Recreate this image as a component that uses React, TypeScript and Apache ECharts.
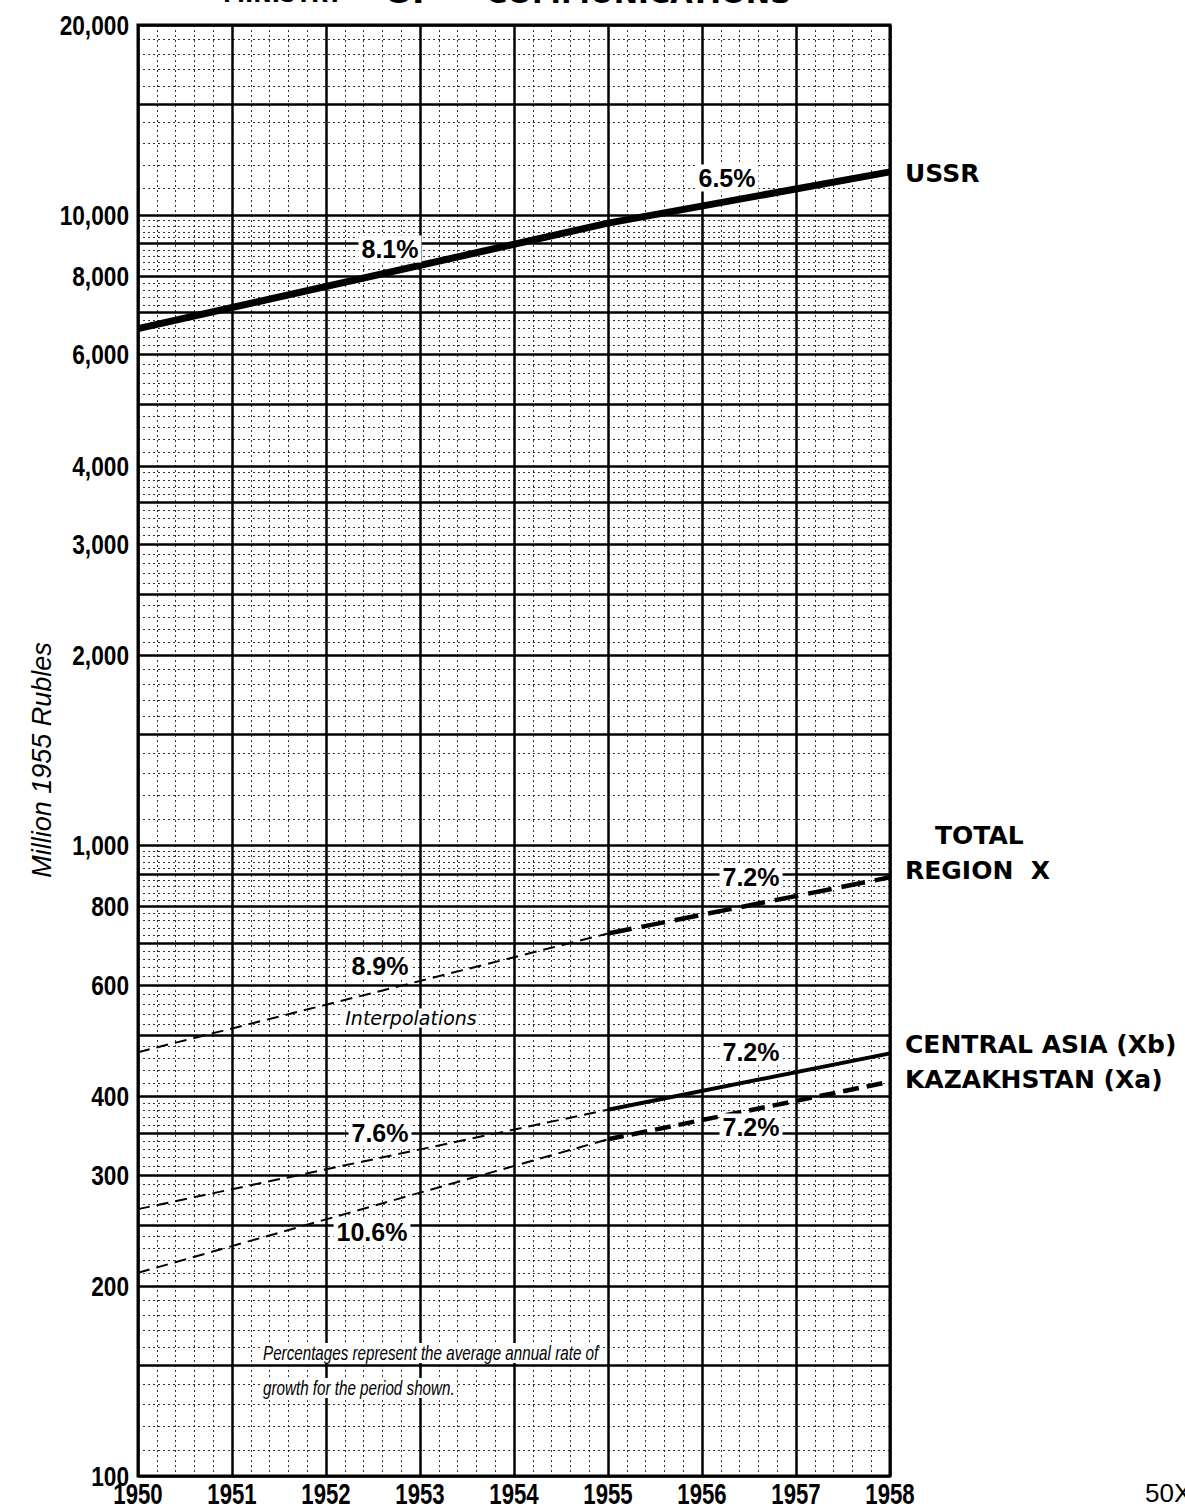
import React, { useEffect, useRef } from "react";
import * as echarts from "echarts";

// ---- data ----
const years = [1950, 1955, 1958];
const ussr = [6600, 9700, 11700];
const totalRegionX = [470, 725, 890];
const centralAsia = [265, 381, 468];
const kazakhstan = [210, 342, 422];

// ---- axis labels ----
const xTickYears = [1950, 1951, 1952, 1953, 1954, 1955, 1956, 1957, 1958];
const yLabelValues = [100, 200, 300, 400, 600, 800, 1000, 2000, 3000, 4000, 6000, 8000, 10000, 20000];
const yLabelTexts = ["100", "200", "300", "400", "600", "800", "1,000", "2,000", "3,000", "4,000", "6,000", "8,000", "10,000", "20,000"];

// heavy rulings of the semi-log graph paper
const majorRulings = [150, 250, 350, 500, 700, 900, 1500, 2500, 3500, 5000, 7000, 9000, 15000];
// fine rulings: [from, to, step] within each decade
const fineRulingSteps = [
  [100, 200, 10],
  [200, 400, 10],
  [400, 1000, 20],
];

const SANS = "'DejaVu Sans', 'Liberation Sans', sans-serif";
const LIB = "'Liberation Sans', Arial, sans-serif";

function fineRulings(): number[] {
  const heavy = new Set([...majorRulings, ...yLabelValues]);
  const out: number[] = [];
  for (const dec of [1, 10, 100]) {
    for (const [a, b, s] of fineRulingSteps) {
      for (let v = a; v < b; v += s) {
        const val = v * dec;
        if (val > 100 && val < 20000 && !heavy.has(val)) out.push(val);
      }
    }
  }
  return out;
}

export default function App() {
  const ref = useRef<HTMLDivElement>(null);

  useEffect(() => {
    if (!ref.current) return;
    const chart = echarts.init(ref.current, null, { renderer: "svg" });

    const heavyLine = { color: "#000", width: 2.5, type: "solid" as const };
    const fineLine = { color: "#000", width: 1, type: [2, 3] as any, opacity: 0.8 };

    const markData: any[] = [];
    fineRulings().forEach((v) => markData.push({ yAxis: v, lineStyle: fineLine }));
    [...majorRulings, ...yLabelValues].forEach((v) => markData.push({ yAxis: v, lineStyle: heavyLine }));

    const pts = (arr: number[]) => years.map((y, i) => [y, arr[i]]);
    const interp = (arr: number[]) => pts(arr).slice(0, 2);
    const actual = (arr: number[]) => pts(arr).slice(1);

    const thinDash = { color: "#000", width: 2, type: [12, 7] as any, cap: "butt" as const };

    const lineSeries = (name: string, data: number[][], lineStyle: any) => ({
      name,
      type: "line",
      data,
      showSymbol: false,
      symbol: "none",
      z: 5,
      lineStyle,
      silent: true,
    });

    const option: any = {
      animation: false,
      backgroundColor: "#fff",
      grid: {
        left: 138,
        right: 295,
        top: 25,
        bottom: 34,
        show: true,
        borderColor: "#000",
        borderWidth: 3,
        backgroundColor: "transparent",
      },
      xAxis: {
        type: "value",
        min: 1950,
        max: 1958,
        interval: 1,
        axisLine: { show: false },
        axisTick: { show: false },
        axisLabel: { show: false },
        splitLine: { show: true, lineStyle: { color: "#000", width: 2.5 } },
        minorTick: { show: false, splitNumber: 5 },
        minorSplitLine: { show: true, lineStyle: { color: "#000", width: 1, type: [2, 3], opacity: 0.8 } },
      },
      yAxis: {
        type: "log",
        logBase: 10,
        min: 100,
        max: 20000,
        axisLine: { show: false },
        axisTick: { show: false },
        axisLabel: { show: false },
        splitLine: { show: false },
      },
      series: [
        {
          name: "rulings",
          type: "line",
          data: [],
          showSymbol: false,
          z: 1,
          silent: true,
          markLine: {
            silent: true,
            symbol: ["none", "none"],
            animation: false,
            label: { show: false },
            data: markData,
          },
        },
        lineSeries("USSR", pts(ussr), { color: "#000", width: 7, type: "solid" }),
        lineSeries("Total Region X (interpolation)", interp(totalRegionX), thinDash),
        lineSeries("Total Region X", actual(totalRegionX), { color: "#000", width: 4.5, type: [24, 10], cap: "butt" }),
        lineSeries("Central Asia (interpolation)", interp(centralAsia), thinDash),
        lineSeries("Central Asia (Xb)", actual(centralAsia), { color: "#000", width: 4, type: "solid" }),
        lineSeries("Kazakhstan (interpolation)", interp(kazakhstan), thinDash),
        lineSeries("Kazakhstan (Xa)", actual(kazakhstan), { color: "#000", width: 4.5, type: [16, 8], cap: "butt" }),
      ],
    };

    chart.setOption(option);

    // axis tick labels placed through the axes' own scales
    const yPix = (v: number) => chart.convertToPixel({ yAxisIndex: 0 }, v) as number;
    const xPix = (v: number) => chart.convertToPixel({ xAxisIndex: 0 }, v) as number;

    const yLabels = yLabelValues.map((v, i) => ({
      type: "text",
      x: 129,
      y: yPix(v),
      scaleX: 0.84,
      z: 60,
      style: {
        text: yLabelTexts[i],
        fill: "#000",
        font: `bold 27px ${LIB}`,
        align: "right",
        verticalAlign: "middle",
      },
    }));
    const xLabels = xTickYears.map((yr) => ({
      type: "text",
      x: xPix(yr),
      y: 1494,
      scaleX: 0.74,
      z: 60,
      style: {
        text: String(yr),
        fill: "#000",
        font: `bold 30px ${LIB}`,
        align: "center",
        verticalAlign: "middle",
      },
    }));

    const pctLabel = (text: string, x: number, y: number) => ({
      type: "text",
      x,
      y,
      z: 50,
      style: {
        text,
        fill: "#000",
        font: `bold 25px ${LIB}`,
        align: "center",
        verticalAlign: "middle",
        backgroundColor: "#fff",
        padding: [1, 3],
      },
    });

    const rightLabel = (text: string, x: number, y: number) => ({
      type: "text",
      x,
      y,
      z: 50,
      style: {
        text,
        fill: "#000",
        font: `bold 25px ${SANS}`,
        align: "left",
        verticalAlign: "middle",
      },
    });

    const noteText = (text: string, y: number) => ({
      type: "text",
      x: 263,
      y,
      scaleX: 0.76,
      z: 50,
      style: {
        text,
        fill: "#000",
        font: `italic 20px ${LIB}`,
        align: "left",
        verticalAlign: "middle",
        backgroundColor: "#fff",
      },
    });

    const titlePart = (text: string, x: number, scaleX: number) => ({
      type: "text",
      x,
      y: -21,
      scaleX,
      style: { text, fill: "#000", font: `bold 28px ${SANS}`, verticalAlign: "top" },
    });

    chart.setOption({
      graphic: [
        // title, cut off at the very top as in the reference
        titlePart("MINISTRY", 223, 0.79),
        titlePart("OF", 385, 1.15),
        titlePart("COMMUNICATIONS", 486, 1.04),
        // y-axis title
        {
          type: "text",
          x: 42,
          y: 760,
          rotation: Math.PI / 2,
          style: {
            text: "Million 1955 Rubles",
            fill: "#000",
            font: `italic 27px ${LIB}`,
            align: "center",
            verticalAlign: "middle",
          },
        },
        ...yLabels,
        ...xLabels,
        pctLabel("8.1%", 390, 249),
        pctLabel("6.5%", 727, 178),
        pctLabel("7.2%", 751, 877),
        pctLabel("8.9%", 380, 966),
        pctLabel("7.2%", 751, 1052),
        pctLabel("7.6%", 380, 1133),
        pctLabel("7.2%", 751, 1127),
        pctLabel("10.6%", 372, 1232),
        {
          type: "text",
          x: 411,
          y: 1018,
          z: 50,
          style: {
            text: "Interpolations",
            fill: "#000",
            font: `italic 19px ${SANS}`,
            align: "center",
            verticalAlign: "middle",
            backgroundColor: "#fff",
            padding: [0, 2],
          },
        },
        noteText("Percentages represent the average annual rate of", 1353),
        noteText("growth for the period shown.", 1388),
        rightLabel("USSR", 905, 173),
        rightLabel("TOTAL", 935, 835),
        rightLabel("REGION  X", 905, 870),
        rightLabel("CENTRAL ASIA (Xb)", 905, 1044),
        rightLabel("KAZAKHSTAN (Xa)", 905, 1079),
        {
          type: "text",
          x: 1145,
          y: 1493,
          style: { text: "50X1", fill: "#000", font: `26px ${LIB}`, align: "left", verticalAlign: "middle" },
        },
      ],
    });

    return () => chart.dispose();
  }, []);

  return (
    <div
      ref={ref}
      style={{ position: "absolute", left: 0, top: 0, width: 1185, height: 1510, background: "#fff" }}
    />
  );
}
